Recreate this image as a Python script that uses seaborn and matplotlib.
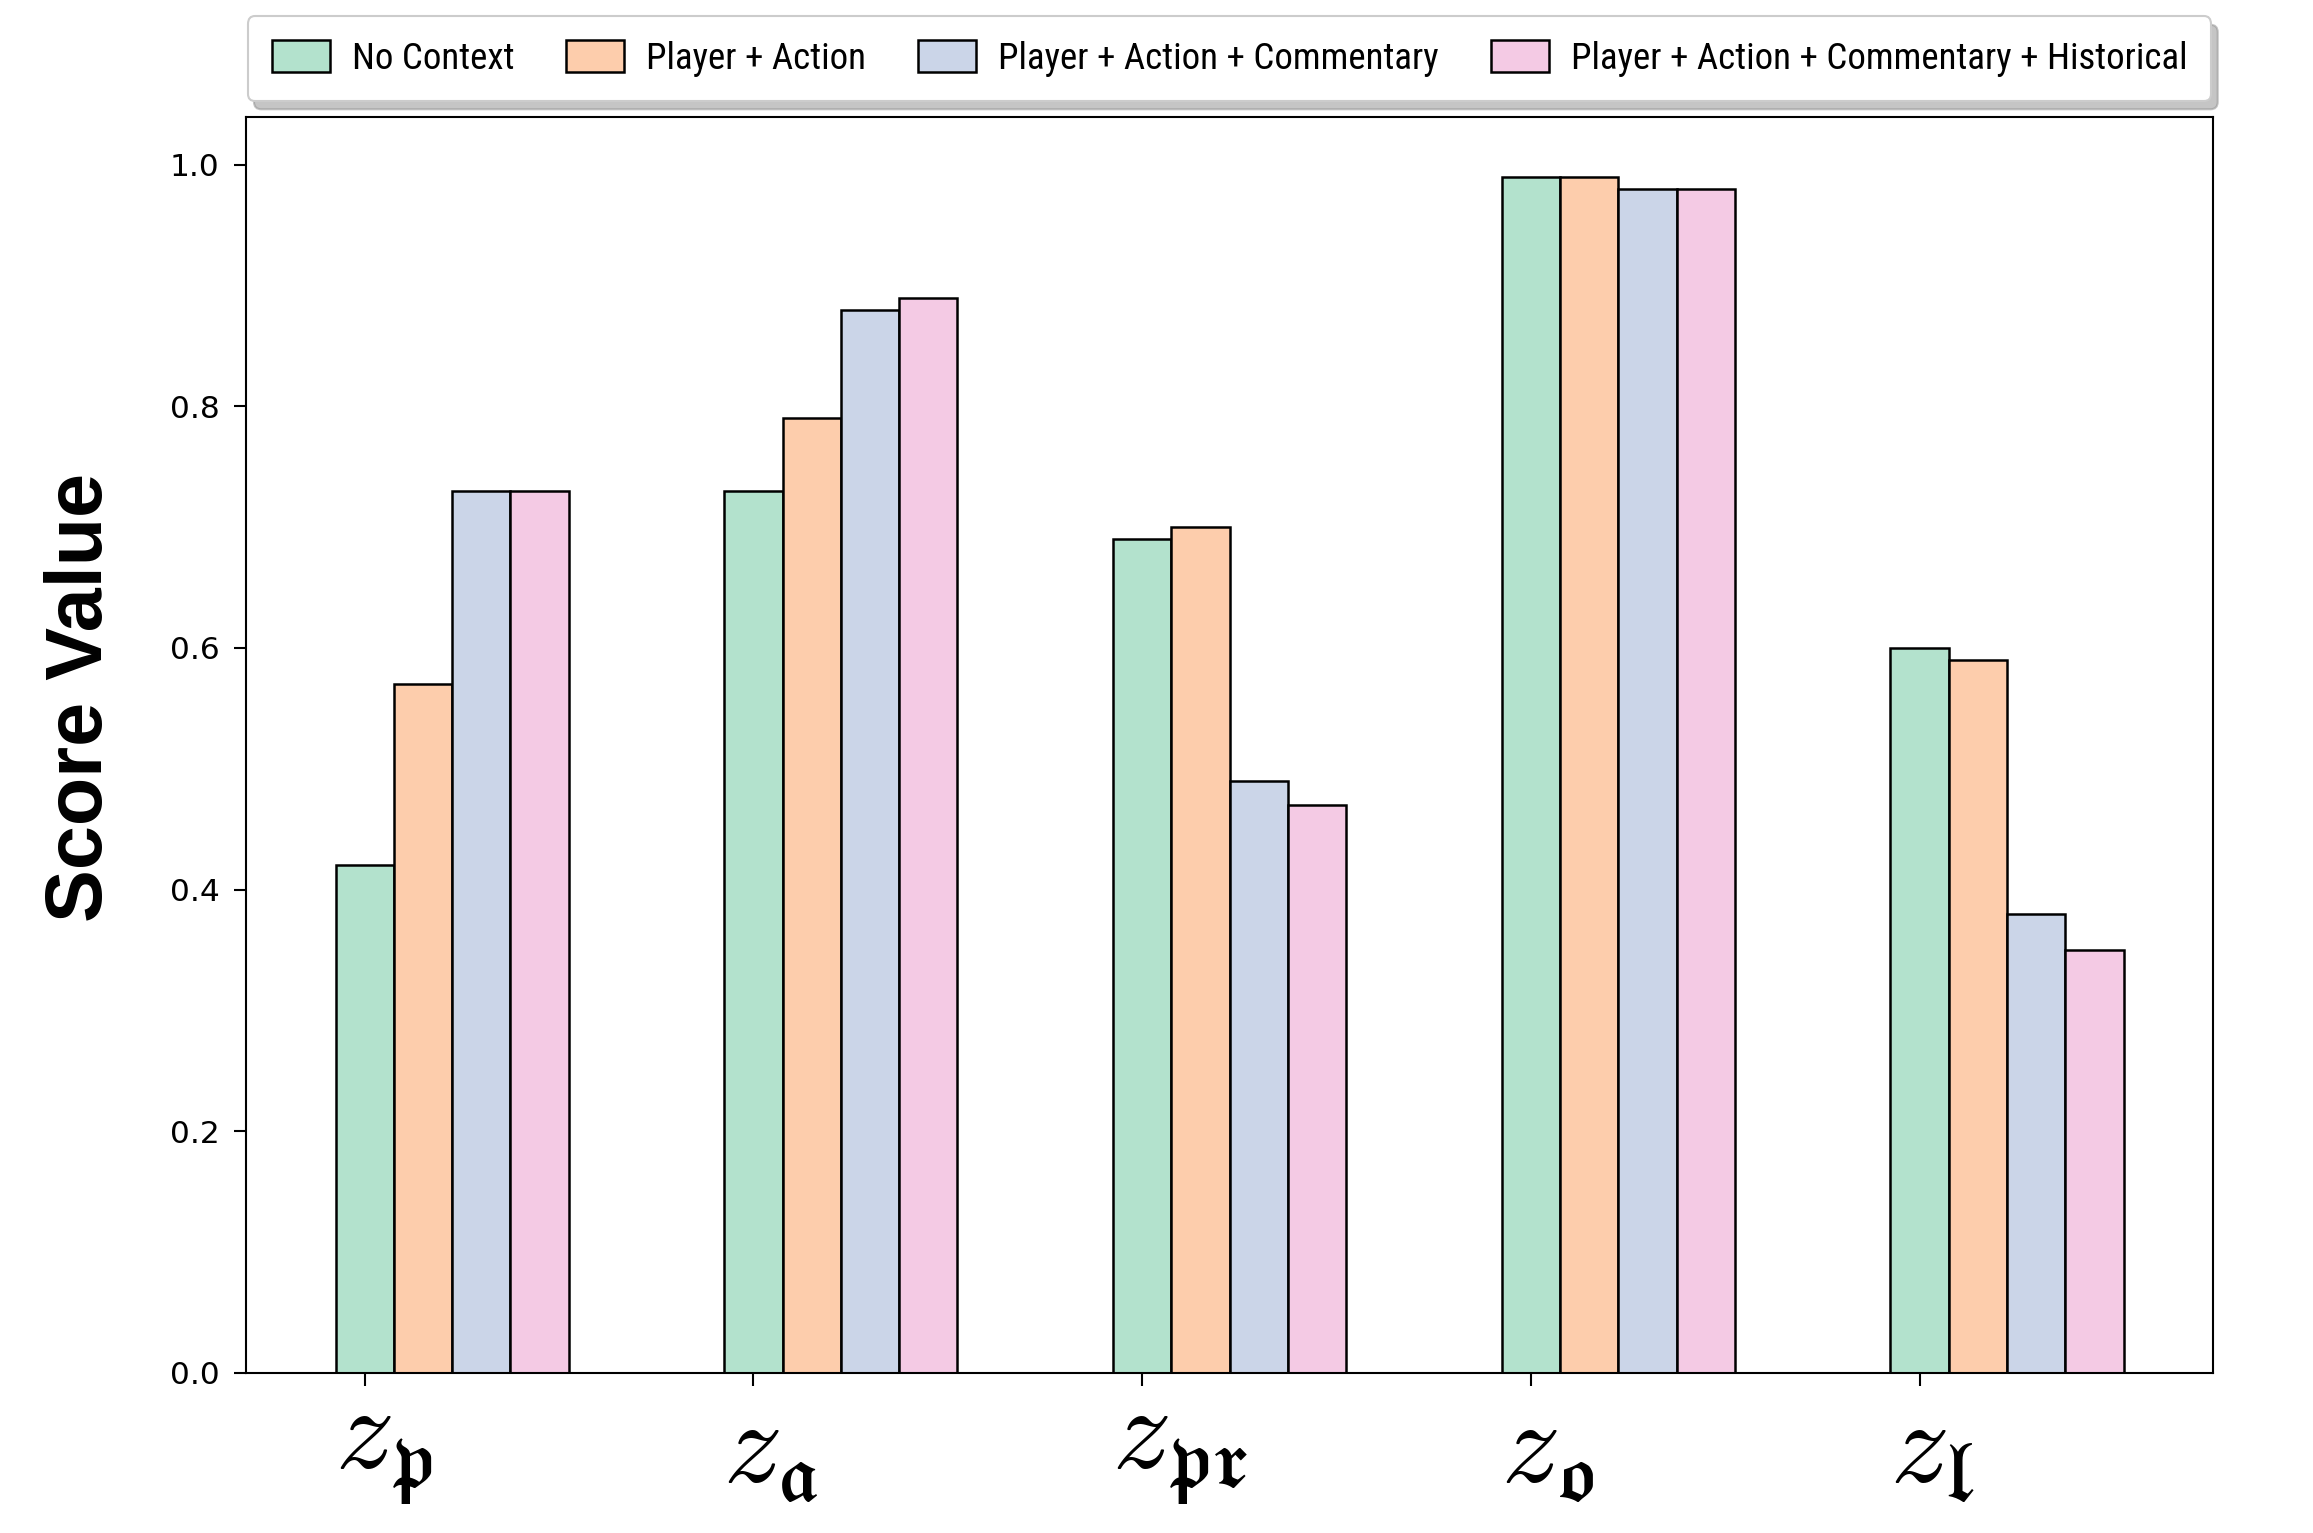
import numpy as np
import pandas as pd
import matplotlib
matplotlib.use("Agg")
import matplotlib.pyplot as plt
from matplotlib import font_manager
from matplotlib.font_manager import FontProperties
from matplotlib.textpath import TextPath
from matplotlib.transforms import ScaledTranslation
import seaborn as sns

# data
metrics = [r"$z_{\mathfrak{p}}$", r"$z_{\mathfrak{a}}$", r"$z_{\mathfrak{pr}}$",
           r"$z_{\mathfrak{o}}$", r"$z_{\mathfrak{l}}$"]
settings = ["No Context", "Player + Action", "Player + Action + Commentary",
            "Player + Action + Commentary + Historical"]
no_context = [0.42, 0.73, 0.69, 0.99, 0.60]
player_action = [0.57, 0.79, 0.70, 0.99, 0.59]
player_action_comm = [0.73, 0.88, 0.49, 0.98, 0.38]
player_action_comm_hist = [0.73, 0.89, 0.47, 0.98, 0.35]
colors = ["#b3e2cd", "#fdcdac", "#cbd5e8", "#f4cae4"]

series = [no_context, player_action, player_action_comm, player_action_comm_hist]
rows = []
for name, vals in zip(settings, series):
    for m, v in zip(metrics, vals):
        rows.append({"metric": m, "setting": name, "score": v})
df = pd.DataFrame(rows)

DPI = 150
PX_PER_PT = DPI / 72.0

sns.set_theme(style="ticks", rc={"axes.edgecolor": "black", "axes.linewidth": 1.0,
                                 "xtick.color": "black", "ytick.color": "black",
                                 "text.color": "black", "axes.labelcolor": "black"})
plt.rcParams["font.family"] = ["DejaVu Sans"]
plt.rcParams["mathtext.fontset"] = "cm"


def pick_legend_font():
    # the legend text in the reference is narrow; use a condensed face if one exists
    installed = {f.name for f in font_manager.fontManager.ttflist}
    for fam in ["Liberation Sans Narrow", "Roboto Condensed", "Open Sans Condensed",
                "Noto Sans Condensed", "DejaVu Sans Condensed"]:
        if fam in installed:
            return FontProperties(family=fam)
    for f in font_manager.fontManager.ttflist:
        if f.name in ("DejaVu Sans", "Noto Sans", "Roboto", "Open Sans") \
                and f.stretch in ("condensed", "semi-condensed", "extra-condensed", 75, 87):
            return FontProperties(fname=f.fname)
    return FontProperties(family="DejaVu Sans")


leg_prop = pick_legend_font()
ink_w = TextPath((0, 0), "No Context", size=1, prop=leg_prop).get_extents().width
em_px = 158.0 / ink_w
em_px = min(em_px, 42.0)
leg_prop.set_size(em_px / PX_PER_PT)

fig = plt.figure(figsize=(15.42, 10.22), dpi=DPI)
ax = fig.add_axes([0.1064, 0.1044, 0.8504, 0.8193])

sns.barplot(data=df, x="metric", y="score", hue="setting", hue_order=settings,
            order=metrics, palette=colors, saturation=1, width=0.6,
            edgecolor="black", linewidth=1.2, errorbar=None, ax=ax)

n_hue = len(settings)
bar_w = 0.6 / n_hue
offset = -0.3 + bar_w / 2
ax.set_xticks(np.arange(len(metrics)) + offset)
ax.set_xticklabels(metrics, fontsize=56)
ax.set_xlim(-0.53, len(metrics) - 1 + 0.53)
ax.set_ylim(0, max(max(s) for s in series) * 1.05)
ax.set_yticks([0.0, 0.2, 0.4, 0.6, 0.8, 1.0])
ax.tick_params(axis="y", labelsize=15, length=5.8, width=1, pad=7)
ax.tick_params(axis="x", length=6, width=1, pad=3)
# labels start a little left of each tick, as in the reference
shift = ScaledTranslation(-0.2, 0, fig.dpi_scale_trans)
for lbl in ax.get_xticklabels():
    lbl.set_horizontalalignment("left")
    lbl.set_transform(lbl.get_transform() + shift)
for side in ["top", "right", "left", "bottom"]:
    ax.spines[side].set_visible(True)
    ax.spines[side].set_color("black")

ax.set_xlabel("")
ax.set_ylabel("Score Value", fontsize=38, fontweight="bold", color="black",
              family=["Liberation Sans", "DejaVu Sans"])
ax.yaxis.set_label_coords(-0.0646, 0.538)

old = ax.get_legend()
handles = old.legend_handles
labels = [t.get_text() for t in old.get_texts()]
ax.legend(handles, labels, loc="lower center", bbox_to_anchor=(0.5, 1.0),
          ncol=4, prop=leg_prop, frameon=True, fancybox=True,
          shadow={"ox": 3, "oy": -4, "color": "0.55"}, framealpha=1,
          edgecolor="0.8", handlelength=58 / em_px, handleheight=35 / em_px,
          handletextpad=22 / em_px, columnspacing=52 / em_px,
          borderpad=24 / em_px, borderaxespad=16 / em_px)

fig.savefig("out.png", dpi=DPI)
